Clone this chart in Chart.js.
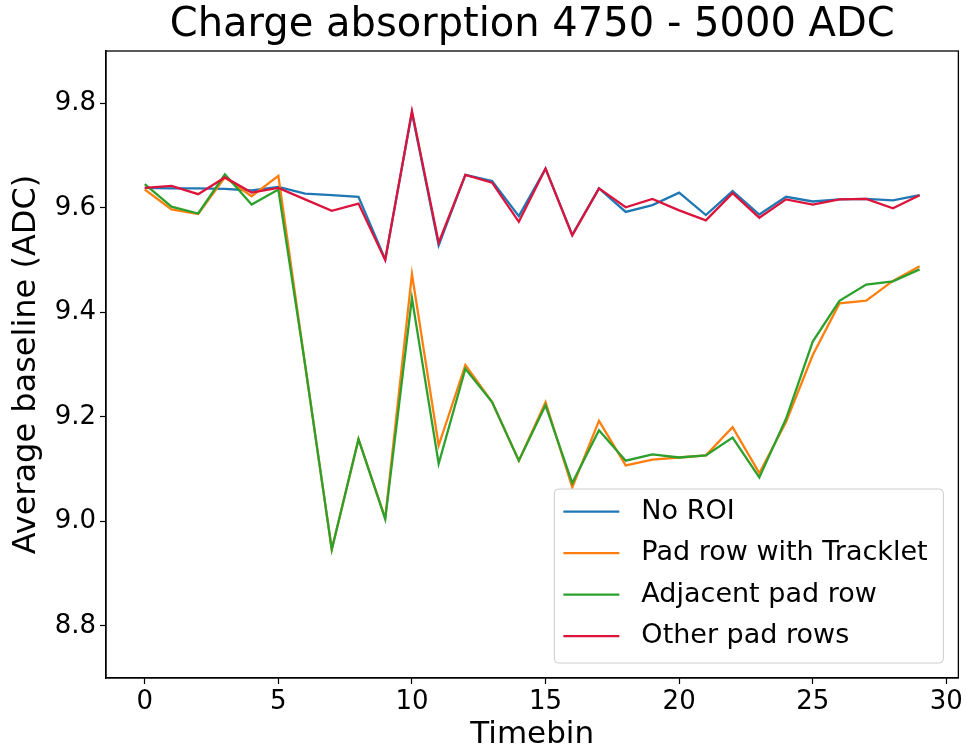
<!DOCTYPE html>
<html>
<head>
<meta charset="utf-8">
<script src="https://cdn.jsdelivr.net/npm/chart.js@4/dist/chart.umd.min.js"></script>
<style>
  html, body { margin: 0; padding: 0; background: #ffffff; }
  #wrap { width: 966px; height: 751px; }
</style>
</head>
<body>
<div id="wrap"><canvas id="c" width="966" height="751"></canvas></div>
<script>
// ---- data ----
const timebins = [0,1,2,3,4,5,6,7,8,9,10,11,12,13,14,15,16,17,18,19,20,21,22,23,24,25,26,27,28,29];

const noROI = [9.638,9.637,9.637,9.636,9.633,9.640,9.627,9.624,9.621,9.501,
               9.782,9.528,9.663,9.651,9.584,9.675,9.548,9.637,9.592,9.605,
               9.629,9.586,9.632,9.587,9.621,9.612,9.616,9.617,9.614,9.624];

const padRowTracklet = [9.635,9.597,9.588,9.658,9.622,9.661,9.300,8.946,9.157,9.006,
                        9.473,9.145,9.299,9.228,9.116,9.228,9.065,9.192,9.107,9.118,
                        9.122,9.126,9.180,9.092,9.190,9.318,9.417,9.422,9.460,9.488];

const adjacentPadRow = [9.645,9.602,9.589,9.664,9.606,9.635,9.300,8.946,9.157,9.004,
                        9.427,9.110,9.292,9.228,9.116,9.222,9.073,9.174,9.116,9.128,
                        9.122,9.126,9.160,9.084,9.196,9.344,9.422,9.453,9.459,9.482];

const otherPadRows = [9.638,9.642,9.626,9.658,9.629,9.638,9.616,9.594,9.608,9.500,
                      9.785,9.533,9.663,9.648,9.573,9.675,9.547,9.637,9.601,9.617,
                      9.595,9.576,9.628,9.581,9.616,9.606,9.616,9.617,9.599,9.624];

const seriesLabels = ["No ROI", "Pad row with Tracklet", "Adjacent pad row", "Other pad rows"];
const xTickValues = [0, 5, 10, 15, 20, 25, 30];
const yTickValues = [8.8, 9.0, 9.2, 9.4, 9.6, 9.8];

// ---- styling ----
const FONT = "'DejaVu Sans', sans-serif";
const colors = ["#1f77b4", "#ff7f0e", "#2ca02c", "#dc143c"];

function pts(arr) { return arr.map((v, i) => ({ x: timebins[i], y: v })); }

const seriesData = [noROI, padRowTracklet, adjacentPadRow, otherPadRows];
const datasets = seriesData.map((arr, i) => ({
  label: seriesLabels[i],
  data: pts(arr),
  borderColor: colors[i],
  backgroundColor: colors[i],
  borderWidth: 2.3,
  pointRadius: 0,
  tension: 0,
  fill: false,
  order: 3 - i   // later series drawn on top, like matplotlib
}));

const framePlugin = {
  id: 'frameAndLegend',
  afterDatasetsDraw(chart) {
    const ctx = chart.ctx;
    const a = chart.chartArea;
    ctx.save();
    // full box (spines)
    ctx.strokeStyle = '#000';
    ctx.lineWidth = 1.3;
    ctx.strokeRect(a.left, a.top, a.right - a.left, a.bottom - a.top);

    // legend box
    const w = 389, h = 174;
    const right = a.right - 15, bottom = a.bottom - 15;
    const left = right - w, top = bottom - h;
    const r = 4;
    ctx.beginPath();
    ctx.moveTo(left + r, top);
    ctx.lineTo(right - r, top);
    ctx.quadraticCurveTo(right, top, right, top + r);
    ctx.lineTo(right, bottom - r);
    ctx.quadraticCurveTo(right, bottom, right - r, bottom);
    ctx.lineTo(left + r, bottom);
    ctx.quadraticCurveTo(left, bottom, left, bottom - r);
    ctx.lineTo(left, top + r);
    ctx.quadraticCurveTo(left, top, left + r, top);
    ctx.closePath();
    ctx.fillStyle = 'rgba(255,255,255,0.85)';
    ctx.fill();
    ctx.strokeStyle = '#cccccc';
    ctx.lineWidth = 1;
    ctx.stroke();

    ctx.font = '27px ' + FONT;
    ctx.textBaseline = 'middle';
    ctx.textAlign = 'left';
    chart.data.datasets.forEach((ds, i) => {
      const cy = top + 22.7 + i * 41.5;
      ctx.strokeStyle = ds.borderColor;
      ctx.lineWidth = 2.3;
      ctx.beginPath();
      ctx.moveTo(left + 9, cy);
      ctx.lineTo(left + 65, cy);
      ctx.stroke();
      ctx.fillStyle = '#000';
      ctx.fillText(ds.label, left + 87, cy);
    });
    ctx.restore();
  }
};

new Chart(document.getElementById('c'), {
  type: 'line',
  data: { datasets },
  plugins: [framePlugin],
  options: {
    responsive: false,
    animation: false,
    layout: { padding: { left: 0, right: 6, top: 0, bottom: 0 } },
    plugins: {
      legend: { display: false },
      tooltip: { enabled: false },
      title: {
        display: true,
        text: 'Charge absorption 4750 - 5000 ADC',
        color: '#000',
        fullSize: false,
        font: { family: FONT, size: 40, weight: 'normal', lineHeight: 1.15 },
        padding: { top: 3, bottom: 2 }
      }
    },
    scales: {
      x: {
        type: 'linear',
        min: -1.45,
        max: 30.45,
        afterBuildTicks(scale) { scale.ticks = xTickValues.map(v => ({ value: v })); },
        afterFit(scale) { scale.height = 73; },
        ticks: {
          color: '#000',
          font: { family: FONT, size: 26 },
          padding: 3,
          maxRotation: 0,
          callback: v => String(v)
        },
        grid: { drawOnChartArea: false, drawTicks: true, tickLength: 6, color: '#000', tickWidth: 1.2 },
        border: { display: true, color: '#000', width: 1.3 },
        title: {
          display: true,
          text: 'Timebin',
          color: '#000',
          font: { family: FONT, size: 31, lineHeight: 1 },
          padding: { top: 0, bottom: 1 }
        }
      },
      y: {
        type: 'linear',
        min: 8.7,
        max: 9.9,
        afterBuildTicks(scale) { scale.ticks = yTickValues.map(v => ({ value: v })); },
        afterFit(scale) { scale.width = 106; },
        ticks: {
          color: '#000',
          font: { family: FONT, size: 26 },
          padding: 4,
          callback: v => Number(v).toFixed(1)
        },
        grid: { drawOnChartArea: false, drawTicks: true, tickLength: 6, color: '#000', tickWidth: 1.2 },
        border: { display: true, color: '#000', width: 1.3 },
        title: {
          display: true,
          text: 'Average baseline (ADC)',
          color: '#000',
          font: { family: FONT, size: 32, lineHeight: 1 },
          padding: { top: 11, bottom: 0 }
        }
      }
    }
  }
});
</script>
</body>
</html>
